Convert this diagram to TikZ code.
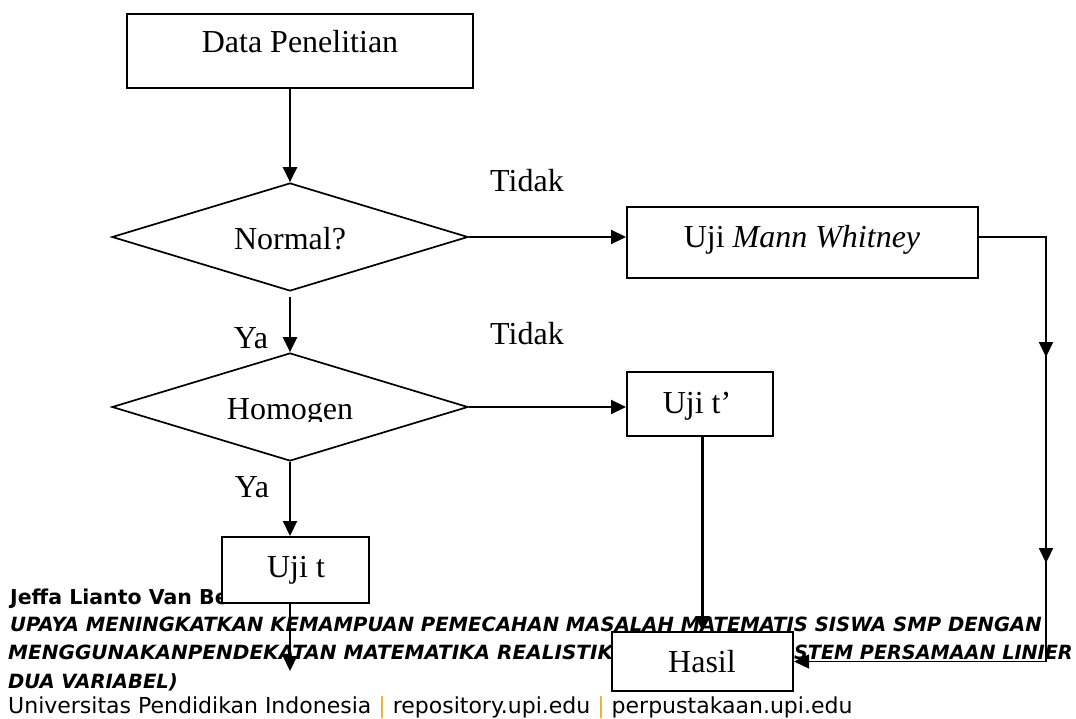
\documentclass[tikz,border=0pt]{standalone}
\usepackage{fontspec}
\usepackage{graphicx}
\setmainfont{Liberation Serif}
\newfontfamily\footfont{DejaVu Sans}[ItalicFont={DejaVu Sans Oblique},BoldFont={DejaVu Sans Bold},BoldItalicFont={DejaVu Sans Bold Oblique}]
\usetikzlibrary{shapes.geometric,arrows.meta}
\definecolor{sepcol}{RGB}{240,170,40}
\tikzset{
  box/.style={draw, line width=2pt, fill=white, rectangle, inner sep=0pt},
  dia/.style={draw, line width=1.7pt, diamond, inner sep=0pt, fill=white, minimum width=356pt, minimum height=108pt},
  lbl/.style={font=\fontsize{32}{38}\selectfont, anchor=base, inner sep=0pt},
  tip/.style={-{Triangle[length=15pt,width=14pt]}},
  conn/.style={line width=2.2pt, tip},
  thinconn/.style={line width=1.3pt, tip},
  foot/.style={font=\footfont\fontsize{22}{26}\selectfont, anchor=base west, inner sep=0pt},
  footb/.style={foot, font=\footfont\bfseries\fontsize{20.5}{24}\selectfont},
  footbi/.style={foot, font=\footfont\bfseries\itshape\fontsize{19.6}{23}\selectfont},
}
\begin{document}
\begin{tikzpicture}[x=1pt,y=-1pt]
\useasboundingbox (0,0) rectangle (1076,719);
% footer text
\node[footb] (author) at (10,604) {Jeffa Lianto Van Be};
\node[footbi] (title1) at (10,631) {UPAYA MENINGKATKAN KEMAMPUAN PEMECAHAN MASALAH MATEMATIS SISWA SMP DENGAN};
\node[footbi] (title2a) at (8,659.5) {\scalebox{1.022}[1]{MENGGUNAKANPENDEKATAN MATEMATIKA REALISTIK}};
\node[footbi, anchor=base east] (title2b) at (1073,659.5) {\scalebox{0.98}[1]{STEM PERSAMAAN LINIER}};
\node[footbi] (title3) at (8,688) {DUA VARIABEL)};
\node[foot] (univ) at (8,713) {Universitas Pendidikan Indonesia {\color{sepcol}|} repository.upi.edu {\color{sepcol}|} perpustakaan.upi.edu};
% shapes
\node[box, minimum width=346pt, minimum height=74pt] (data) at (300,51) {};
\node[lbl] (datat) at (300,53) {Data Penelitian};
\node[dia] (normal) at (290,237) {};
\node[lbl] (normalt) at (290,249.5) {Normal?};
\node[dia] (homogen) at (290,407) {};
\begin{scope}
\clip (200,380) rectangle (380,421);
\node[lbl] (homogent) at (290,419) {Homogen};
\end{scope}
\node[box, minimum width=351pt, minimum height=71pt] (mw) at (802.5,242.5) {};
\node[lbl] (mwt) at (802,248) {Uji \textit{Mann Whitney}};
\node[box, minimum width=146pt, minimum height=64pt] (ujitp) at (700,404) {};
\node[lbl] (ujitpt) at (697,413) {Uji t’};
\node[box, minimum width=147pt, minimum height=66pt] (ujit) at (295.5,570) {};
\node[lbl] (ujitt) at (296,577) {Uji t};
\node[box, minimum width=181pt, minimum height=59pt] (hasil) at (702.5,661.5) {};
\node[lbl] (hasilt) at (702,672) {Hasil};
% labels
\node[lbl] (tidak1) at (527,192) {Tidak};
\node[lbl] (tidak2) at (527,344) {Tidak};
\node[lbl] (ya1) at (251,348) {Ya};
\node[lbl] (ya2) at (252,497) {Ya};
% connectors
\draw[conn] (data.south -| normal.north) -- (normal.north);
\draw[conn] (normal.east) -- (normal.east -| mw.west);
\draw[conn, shorten <=5pt] (normal.south) -- (homogen.north);
\draw[conn] (homogen.east) -- (homogen.east -| ujitp.west);
\draw[conn] (homogen.south) -- (homogen.south |- ujit.north);
\coordinate (ujitend) at (290,671);
\draw[conn] (ujitend |- ujit.south) -- (ujitend);
\draw[conn] (hasil.north |- ujitp.south) -- (hasil.north);
\coordinate (rtop) at (1046,237);
\coordinate (rbot) at (1046,661.5);
\draw[thinconn] (mw.east |- rtop) -- (rtop) -- (rbot) -- (hasil.east);
\coordinate (ra1) at (1046,277);
\coordinate (ra2) at (1046,357);
\coordinate (rb1) at (1046,483);
\coordinate (rb2) at (1046,563);
\draw[conn] (ra1) -- (ra2);
\draw[conn] (rb1) -- (rb2);
\end{tikzpicture}
\end{document}
